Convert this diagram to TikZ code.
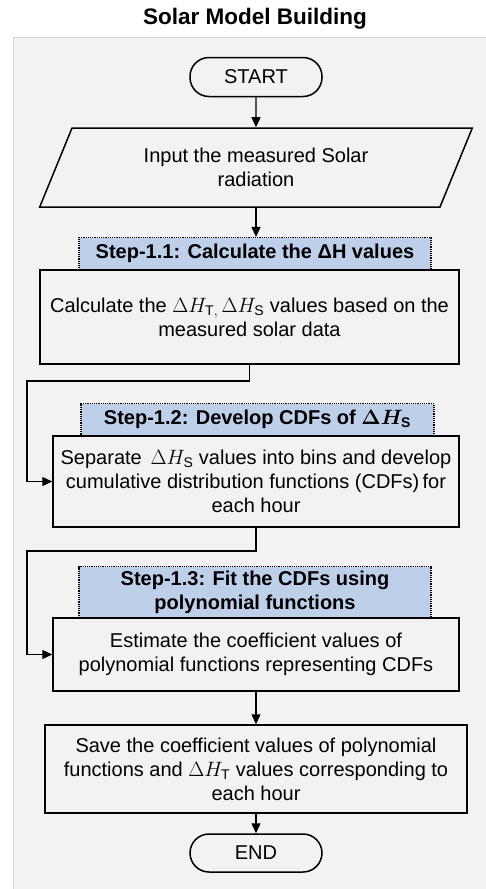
\documentclass[tikz,border=0pt]{standalone}
\usepackage{fontspec}
\setmainfont{Liberation Sans}
\usetikzlibrary{arrows.meta,shapes.geometric}
\definecolor{panelgray}{RGB}{242,242,242}
\definecolor{paneledge}{RGB}{215,215,215}
\definecolor{stepblue}{RGB}{189,207,233}

\begin{document}
\begin{tikzpicture}[x=1pt,y=-1pt,
		every node/.style={font=\fontsize{20}{24}\selectfont, align=center},
		flowbox/.style={draw, line width=1.5pt, fill=panelgray, inner sep=0pt},
		stephead/.style={draw, densely dotted, line width=1.2pt, fill=stepblue, inner sep=0pt,
			font=\bfseries\boldmath\fontsize{20}{24}\selectfont},
		terminal/.style={draw, line width=1.5pt, rounded corners=19pt, fill=panelgray,
			minimum width=132pt, minimum height=39pt},
		arrow/.style={line width=1.3pt, -{Triangle[length=10pt,width=9pt]}}]
			\useasboundingbox (0,0) rectangle (485,889);
			% panel and title
			\draw[paneledge, fill=panelgray, line width=1pt] (13,37) rectangle (495,900);
			\node[font=\bfseries\fontsize{22.5}{26}\selectfont] (title) at (255,19) {Solar Model Building};
			% main flow
			\node[terminal] (start) at (256,77) {START};
			\node[draw, line width=1.5pt, fill=panelgray, trapezium, trapezium left angle=63, trapezium right angle=117,
				trapezium stretches=true, minimum width=433pt, minimum height=79pt, inner sep=0pt] (input) at (256,167.5)
				{Input the measured Solar\\radiation};
			\node[stephead, minimum width=352pt, minimum height=32pt] (step1) at (255,253.5)
				{Step-1.1: Calculate the ΔH values};
			\node[flowbox, minimum width=419pt, minimum height=94pt] (calc) at (249.5,317)
				{Calculate the $\Delta H_{\mathrm{T},}\,\Delta H_{\mathrm{S}}$ values based on the\\measured solar data};
			\node[stephead, minimum width=353pt, minimum height=32pt] (step2) at (257.5,419.5)
				{Step-1.2: Develop CDFs of $\Delta H_{\mathrm{S}}$};
			\node[flowbox, minimum width=406pt, minimum height=91pt] (bins) at (256,481.5)
				{Separate \,$\Delta H_{\mathrm{S}}$ values into bins and develop\\cumulative distribution functions (CDFs)\,for\\each hour};
			\node[stephead, minimum width=352pt, minimum height=51pt] (step3) at (255,592)
				{Step-1.3: Fit the CDFs using\\polynomial functions};
			\node[flowbox, minimum width=406pt, minimum height=73pt] (fit) at (256,654.5)
				{Estimate the coefficient values of\\polynomial functions representing CDFs};
			\node[flowbox, minimum width=422pt, minimum height=88pt] (save) at (256,769)
				{Save the coefficient values of polynomial\\functions and $\Delta H_{\mathrm{T}}$ values corresponding to\\each hour};
			\node[terminal, minimum height=38pt] (stop) at (256,853) {END};
			% connectors
			\coordinate (turn1) at (27,381);
			\coordinate (turn2) at (27,551);
			\draw[arrow] (start) -- (input);
			\draw[arrow] (input.south) -- (input.south |- step1.north);
			\draw[arrow] (calc.south) |- (turn1) |- (bins.west);
			\draw[arrow] (bins.south) |- (turn2) |- (fit.west);
			\draw[arrow] (fit) -- (save);
			\draw[arrow] (save) -- (stop);
\end{tikzpicture}
\end{document}
